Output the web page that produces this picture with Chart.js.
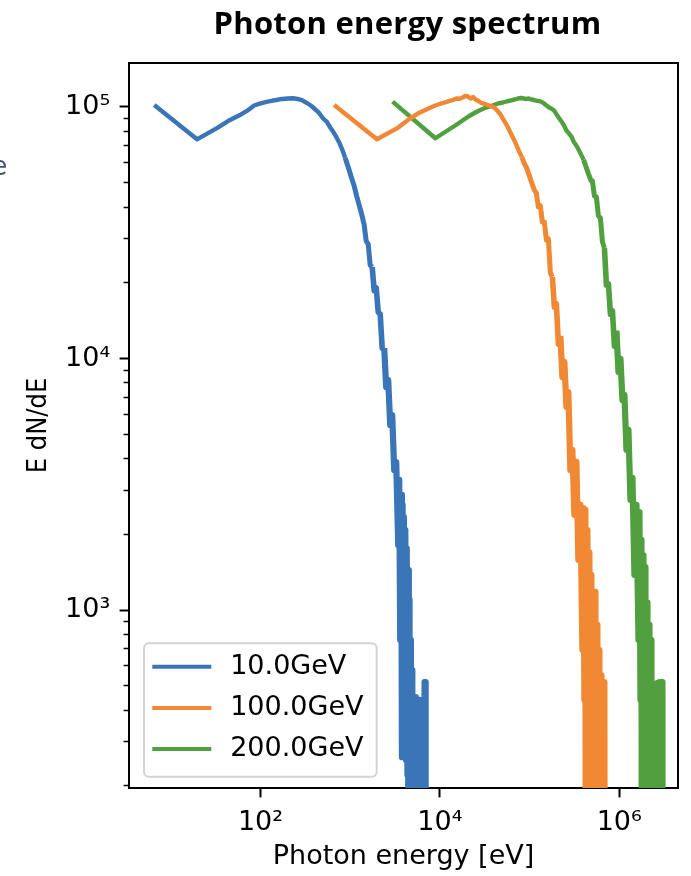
<!DOCTYPE html>
<html>
<head>
<meta charset="utf-8">
<script src="https://cdn.jsdelivr.net/npm/chart.js@4.4.1/dist/chart.umd.min.js"></script>
<style>
html,body{margin:0;padding:0;background:#ffffff;}
#wrap{width:691px;height:876px;position:relative;}
</style>
</head>
<body>
<div id="wrap"><canvas id="c"></canvas></div>
<script>
// ---------------- data ----------------
const seriesLabels = ['10.0GeV', '100.0GeV', '200.0GeV'];

const blueEnergy = [6.54, 19.6, 32.7, 45.8, 58.9, 71.9, 85.0, 98.1, 111, 124, 137, 150, 163, 176,
  200, 230, 260, 290, 330, 370, 410, 450, 500, 550, 600, 650, 700,
  760, 820, 880, 950, 1020, 1100, 1180, 1260, 1350,
  1433, 1509, 1588, 1672, 1760, 1853, 1951, 2053, 2162, 2276, 2396, 2522, 2655, 2795, 2943, 3098, 3261, 3433,
  3523, 3614, 3708, 3776, 3845, 3905, 3976, 4048, 4121, 4196, 4272, 4349, 4428, 4508, 4589, 4673, 4758, 4844,
  4932, 5021, 5112, 5205, 5299, 5395,
  5522, 5637, 5754, 5875, 5997, 6121, 6249, 6378, 6511, 6646, 6749, 6855, 6942];
const blueValue = [101900, 74400, 82400, 88800, 92900, 96900, 101400, 103200, 104400, 105200, 106100, 106600, 107300, 107600,
  108100, 108300, 107600, 106600, 103700, 100900, 97700, 94700, 90000, 87200, 82900, 79500, 76000,
  71900, 67400, 62700, 57700, 53200, 49000, 44300, 40700, 37200,
  34000, 29300, 28500, 23500, 23100, 18600, 19100, 15300, 15000, 11000, 11000, 7700, 8210, 5440, 5960, 3600, 3880, 1810,
  3290, 760, 2870, 260, 2620, 527, 2340, 365, 2080, 253, 1760, 221, 1440, 0, 1100, 0, 760, 0,
  577, 0, 451, 0, 451, 0,
  439, 0, 419, 0, 439, 0, 419, 0, 439, 0, 517, 517, 0];

const orangeEnergy = [663, 1989, 3315, 4641, 5967, 7293, 8619, 9945, 11271, 12597, 13923, 15249, 16575, 17901, 19227,
  20500, 22000, 23500, 25000, 27000, 29000, 31000, 33000, 35000, 38000, 41000, 44000, 47000, 50000, 53000, 56000,
  60000, 64000, 68000, 72000, 77000, 82000, 87000, 93000, 99000, 106000, 113000,
  119100, 125400, 132000, 139000, 146300, 154000, 162100, 170700, 179700, 189200, 199100, 209600,
  220700, 232300, 244600, 257500, 271000, 285300, 300400, 316200, 332900, 350400, 369000, 388400,
  398500, 408900, 419600, 430400, 441700, 453100, 465000, 477000, 489500, 502100, 515300, 528600,
  542400, 556500, 571000, 585800, 601100, 616700, 632800, 649200, 666200, 683400, 698000];
const orangeValue = [101900, 74400, 82200, 90000, 95100, 98200, 100900, 102800, 104200, 105600, 106600, 108100, 107800, 109100, 110600,
  110100, 108100, 109600, 107100, 105600, 103700, 103200, 102300, 101400, 100500, 99100, 96400, 93800, 90400, 87200, 84400,
  80300, 76700, 73300, 70000, 66200, 63200, 59800, 57100, 53600, 49800, 46700,
  45500, 40000, 40400, 34900, 34900, 29600, 29900, 21900, 21100, 16000, 16500, 11400,
  12300, 8440, 9690, 6420, 7360, 3600, 4330, 2390, 3880, 1580, 2620, 693,
  2540, 439, 2500, 0, 2080, 0, 1690, 0, 1380, 0, 1180, 0,
  1180, 0, 872, 0, 693, 0, 551, 0, 517, 517, 0];

const greenEnergy = [2970, 8910, 14850, 20790, 26730, 32670, 38610, 44550, 50490, 56430, 62370, 68310, 74250, 80190, 86130, 92070, 98010,
  105000, 112000, 120000, 128000, 136000, 145000, 155000, 165000, 176000, 188000, 200000, 213000, 227000, 242000,
  258000, 275000, 293000, 312000, 332000, 354000, 377000, 401000, 427000, 455000, 485000,
  502100, 528600, 556500, 585800, 616700, 649200, 683400, 719500, 757600, 797500, 839600, 884000,
  930700, 979700, 1031400, 1085700, 1142900, 1203400, 1266800, 1333500, 1403900, 1477800, 1556000, 1637900,
  1680500, 1724300, 1769300, 1815100, 1862400, 1911000, 1960400, 2011600, 2063600, 2117500, 2172700, 2228800,
  2286900, 2346200, 2407400, 2470200, 2534200, 2600200, 2667600, 2737200, 2808500, 2881400, 2956600, 3033000, 3096600];
const greenValue = [105000, 75100, 84400, 91700, 96400, 99500, 101400, 103300, 104200, 105400, 106300, 107100, 108100, 108600, 108100, 107600, 108100,
  107100, 106600, 105900, 105600, 104700, 103300, 101400, 99500, 98400, 96800, 93400, 90400, 87600, 84400,
  80600, 78500, 76300, 72600, 70300, 67500, 64500, 61600, 57700, 54100, 51000,
  50800, 44300, 43900, 36900, 36200, 29100, 27500, 19600, 19800, 15000, 15500, 11200,
  12900, 8840, 10000, 6840, 7160, 4330, 5200, 2740, 3350, 1380, 2620, 760,
  2450, 439, 1900, 0, 1650, 0, 1480, 0, 1070, 0, 872, 0,
  760, 0, 481, 0, 481, 0, 513, 0, 517, 0, 517, 517, 0];

const xTickValues = [1e2, 1e4, 1e6];
const xTickLabels = ['10\u00B2', '10\u2074', '10\u2076'];
const yTickValues = [1e3, 1e4, 1e5];
const yTickLabels = ['10\u00B3', '10\u2074', '10\u2075'];
const xLimits = [3.42, 4.52e6];
const yLimits = [196, 1.496e5];

const chartTitle = 'Photon energy spectrum';
const xAxisTitle = 'Photon energy [eV]';
const yAxisTitle = 'E dN/dE';

// ---------------- build ----------------
const colors = ['#3a75b7', '#f08834', '#50a040'];
const ZERO_FLOOR = 1e-2; // empty bins are drawn down past the axis, like matplotlib's clipping
function pts(E, V) { return E.map((e, i) => ({ x: e, y: V[i] > 0 ? V[i] : ZERO_FLOOR })); }

const yMinor = [];
[100, 1000, 10000].forEach(d => { for (let m = 2; m <= 9; m++) { const v = m * d; if (v >= yLimits[0] && v <= yLimits[1]) yMinor.push(v); } });
const yTickAll = yMinor.concat(yTickValues).sort((a, b) => a - b);

Chart.defaults.font.family = "'DejaVu Sans', sans-serif";
Chart.defaults.color = '#000';

function noPad(s) { s.paddingTop = 0; s.paddingBottom = 0; s.paddingLeft = 0; s.paddingRight = 0; }

// the noisy low-count part of each spectrum renders as a wider band
function segWidth(c) {
  const lo = Math.min(c.p0.parsed.y, c.p1.parsed.y);
  if (lo >= 60000) return 4.4;
  if (lo >= 20000) return 5.0;
  if (lo >= 9000) return 5.6;
  return 6.2;
}

const decor = {
  id: 'decor',
  afterLayout(chart) {
    const lg = chart.legend;
    lg.left = 138.1; lg.top = 639; lg.right = 382; lg.bottom = 788;
    lg.width = lg.right - lg.left; lg.height = lg.bottom - lg.top;
  },
  beforeDraw(chart) {
    const ctx = chart.ctx;
    ctx.save();
    ctx.beginPath();
    ctx.roundRect(144, 643.3, 232.7, 133.4, 5);
    ctx.fillStyle = '#ffffff';
    ctx.fill();
    ctx.lineWidth = 2;
    ctx.strokeStyle = '#d3d3d3';
    ctx.stroke();
    ctx.restore();
  },
  afterDraw(chart) {
    const ctx = chart.ctx;
    ctx.save();
    ctx.fillStyle = '#000';
    ctx.font = 'bold 31px "Open Sans"';
    ctx.textBaseline = 'alphabetic';
    ctx.textAlign = 'left';
    const w = ctx.measureText(chartTitle).width;
    let sp = (388 - w) / chartTitle.length;
    sp = Math.max(-1.5, Math.min(1.5, sp));
    ctx.letterSpacing = sp.toFixed(2) + 'px';
    const w2 = w + sp * chartTitle.length;
    ctx.fillText(chartTitle, 407.5 - w2 / 2, 33.5);
    ctx.letterSpacing = '0px';
    ctx.fillStyle = '#3d5479';
    ctx.font = '28px Lato';
    ctx.textAlign = 'right';
    ctx.fillText('e', 7, 175);
    ctx.restore();
  }
};

new Chart(document.getElementById('c'), {
  type: 'line',
  data: {
    datasets: [
      { label: seriesLabels[0], data: pts(blueEnergy, blueValue), borderColor: colors[0], backgroundColor: colors[0] },
      { label: seriesLabels[1], data: pts(orangeEnergy, orangeValue), borderColor: colors[1], backgroundColor: colors[1] },
      { label: seriesLabels[2], data: pts(greenEnergy, greenValue), borderColor: colors[2], backgroundColor: colors[2] }
    ].map(d => Object.assign(d, { borderWidth: 4.4, pointRadius: 0, pointHoverRadius: 0, tension: 0, fill: false,
      borderJoinStyle: 'round', borderCapStyle: 'butt', pointStyle: 'line', segment: { borderWidth: segWidth } }))
  },
  options: {
    responsive: true,
    maintainAspectRatio: false,
    animation: false,
    devicePixelRatio: 1,
    events: [],
    layout: { padding: { top: 63, right: 13, bottom: 0, left: 0 } },
    scales: {
      x: {
        type: 'logarithmic', position: 'bottom', min: xLimits[0], max: xLimits[1], bounds: 'data',
        afterBuildTicks: s => { s.ticks = xTickValues.map(v => ({ value: v, major: true })); },
        afterFit: s => { s.height = 88; noPad(s); },
        ticks: { autoSkip: false, maxRotation: 0, minRotation: 0, padding: 9.4, font: { size: 27 }, color: '#000',
          callback: v => { const i = xTickValues.indexOf(v); return i >= 0 ? xTickLabels[i] : ''; } },
        grid: { drawOnChartArea: false, drawTicks: true, tickLength: 9.4, tickWidth: 2, tickColor: '#000' },
        border: { display: true, color: '#000', width: 2 },
        title: { display: true, text: xAxisTitle, font: { size: 27 }, color: '#000', padding: { top: 0, bottom: 3 } }
      },
      y: {
        type: 'logarithmic', position: 'left', min: yLimits[0], max: yLimits[1], bounds: 'data',
        afterBuildTicks: s => { s.ticks = yTickAll.map(v => ({ value: v, major: yTickValues.indexOf(v) >= 0 })); },
        afterFit: s => { s.width = 129; noPad(s); },
        ticks: { autoSkip: false, padding: 9.4, font: { size: 27 }, color: '#000',
          callback: v => { const i = yTickValues.indexOf(v); return i >= 0 ? yTickLabels[i] : ''; } },
        grid: { drawOnChartArea: false, drawTicks: true, tickLength: 9.4, tickColor: '#000',
          tickWidth: c => (c.tick && c.tick.major) ? 2 : 1.6,
          tickBorderDash: c => (c.tick && c.tick.major) ? [] : [0, 4.0, 5.4, 60] },
        border: { display: true, color: '#000', width: 2 },
        title: { display: true, text: yAxisTitle, font: { size: 27, family: "'DejaVu Sans Condensed', 'DejaVu Sans', sans-serif" },
          color: '#000', padding: { top: 23, bottom: 0 } }
      },
      xTop: {
        type: 'logarithmic', axis: 'x', position: 'top', min: xLimits[0], max: xLimits[1], bounds: 'data',
        afterFit: s => { s.height = 0; noPad(s); },
        ticks: { display: false },
        grid: { drawOnChartArea: false, drawTicks: false },
        border: { display: true, color: '#000', width: 2 }
      },
      yRight: {
        type: 'logarithmic', axis: 'y', position: 'right', min: yLimits[0], max: yLimits[1], bounds: 'data',
        afterFit: s => { s.width = 0; noPad(s); },
        ticks: { display: false },
        grid: { drawOnChartArea: false, drawTicks: false },
        border: { display: true, color: '#000', width: 2 }
      }
    },
    plugins: {
      tooltip: { enabled: false },
      title: { display: false },
      legend: {
        display: true, position: 'chartArea', align: 'start',
        labels: {
          usePointStyle: true, usePointStyleWidth: true, pointStyle: 'line', pointStyleWidth: 59, boxHeight: 27,
          padding: 14.2, font: { size: 27 }, color: '#000',
          generateLabels: chart => chart.data.datasets.map((ds, i) => ({
            text: '\u2009' + ds.label, fillStyle: ds.borderColor, strokeStyle: ds.borderColor, lineWidth: 4,
            pointStyle: 'line', hidden: false, datasetIndex: i, fontColor: '#000', lineCap: 'butt'
          }))
        }
      }
    }
  },
  plugins: [decor]
});
</script>
</body>
</html>
